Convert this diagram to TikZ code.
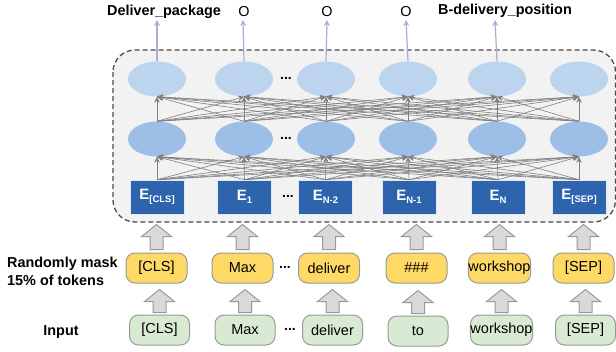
\documentclass[tikz,border=0pt]{standalone}
\usepackage{fontspec}
\setmainfont{Liberation Sans}
\usetikzlibrary{shapes.geometric,arrows.meta,calc}
\definecolor{bgbox}{HTML}{F2F2F2}
\definecolor{topell}{HTML}{BDD4EE}
\definecolor{midell}{HTML}{9DBEE6}
\definecolor{ebox}{HTML}{2E63AE}
\definecolor{ylw}{HTML}{FFD966}
\definecolor{grn}{HTML}{D9EAD3}
\definecolor{bord}{HTML}{999999}
\definecolor{purp}{HTML}{B4A7D6}
\definecolor{edgegray}{HTML}{808080}
\tikzset{
  topnode/.style={ellipse, fill=topell, minimum width=58pt, minimum height=35pt, inner sep=0pt},
  midnode/.style={ellipse, fill=midell, minimum width=58pt, minimum height=35pt, inner sep=0pt},
  embox/.style={rectangle, fill=ebox, draw=white!85!ebox, line width=0.6pt, minimum width=54pt, minimum height=34pt, inner sep=0pt, text=white, font=\fontsize{15}{15}\selectfont\bfseries},
  ybox/.style={rectangle, rounded corners=9pt, fill=ylw, draw=bord, line width=1pt, minimum width=61pt, minimum height=30pt, inner sep=0pt, font=\fontsize{14.5}{15}\selectfont},
  gbox/.style={rectangle, rounded corners=9pt, fill=grn, draw=bord, line width=1pt, minimum width=60pt, minimum height=30pt, inner sep=0pt, font=\fontsize{14.5}{15}\selectfont},
  edge/.style={draw=edgegray, line width=0.6pt, -{Stealth[length=6pt,width=5.5pt]}},
  outarrow/.style={draw=purp, line width=1.2pt, -{Stealth[length=6pt,width=6pt]}},
  toplabel/.style={font=\fontsize{14.4}{15}\selectfont\bfseries, inner sep=0pt},
  olabel/.style={font=\fontsize{14.4}{15}\selectfont, inner sep=0pt},
  sidelabel/.style={font=\fontsize{14.4}{18}\selectfont\bfseries, inner sep=0pt, align=left},
  dotsnode/.style={font=\fontsize{14}{14}\selectfont\bfseries, inner sep=0pt},
  blockarr/.style={fill=black!15, draw=bord, line width=1pt, line join=miter},
}
\newcommand\blockarrow[3]{%
  \draw[blockarr, shift={($(#1.north)+(0,#2)$)}] (-6.5,0) -- (-6.5,-#3+12) -- (-15,-#3+12) -- (0,-#3) -- (15,-#3+12) -- (6.5,-#3+12) -- (6.5,0) -- cycle;}
\newcommand\esub[2]{#1\raisebox{-3.5pt}{\fontsize{9.5}{10}\selectfont #2}}
\begin{document}
\begin{tikzpicture}[x=1pt,y=-1pt]
\useasboundingbox (0,0) rectangle (616,351);
% dashed container
\draw[dashed, dash pattern=on 5pt off 3pt, draw=black!70, line width=1.3pt, fill=bgbox, rounded corners=22pt] (113,50) rectangle (615.5,222);
% top ellipses
\foreach \n/\x in {1/157,2/244,3/326,4/408,5/497,6/579}{
  \node[topnode] (t\n) at (\x,79) {};
  \node[midnode] (m\n) at (\x,139) {};
}
% E boxes
\node[embox] (e1) at (157,197) {\esub{E}{[CLS]}};
\node[embox] (e2) at (244.5,197) {\esub{E}{1}};
\node[embox] (e3) at (325.5,197) {\esub{E}{N-2}};
\node[embox] (e4) at (409,197) {\esub{E}{N-1}};
\node[embox] (e5) at (498,197) {\esub{E}{N}};
\node[embox] (e6) at (579,197) {\esub{E}{[SEP]}};
% edges
\foreach \i in {1,...,6}{
  \foreach \j in {1,...,6}{
    \draw[edge] (e\i.north) -- (m\j.south);
    \draw[edge] (m\i.north) -- (t\j.south);
  }
}
% dots
\node[dotsnode] (d1) at (286,78) {...};
\node[dotsnode] (d2) at (286,138) {...};
\node[dotsnode] (d3) at (288,196) {...};
\node[dotsnode] (d4) at (285,267) {...};
\node[dotsnode] (d5) at (290,329) {...};
% masked tokens
\node[ybox] (y1) at (156.5,268) {[CLS]};
\node[ybox] (y2) at (242.5,268) {Max};
\node[ybox] (y3) at (329,268) {deliver};
\node[ybox] (y4) at (416.5,268) {\#\#\#};
\node[ybox] (y5) at (499.5,268) {workshop};
\node[ybox] (y6) at (583.5,268) {[SEP]};
% input tokens
\node[gbox] (g1) at (159.5,330) {[CLS]};
\node[gbox] (g2) at (245,330) {Max};
\node[gbox] (g3) at (332.5,330) {deliver};
\node[gbox] (g4) at (418,331) {to};
\node[gbox] (g5) at (501.5,330) {workshop};
\node[gbox] (g6) at (585.5,330) {[SEP]};
% block arrows
\foreach \n in {1,...,6}{
  \blockarrow{y\n}{-3}{25}
  \blockarrow{g\n}{-2}{23}
}
% side labels
\node[sidelabel, anchor=west] (lmask) at (7,271) {Randomly mask\\15\% of tokens};
\node[sidelabel] (linput) at (61,332) {Input};
% output labels
\node[toplabel] (o1) at (164,12) {Deliver\_package};
\node[olabel] (o2) at (244,12) {O};
\node[olabel] (o3) at (327,12) {O};
\node[olabel] (o4) at (406,12) {O};
\node[toplabel] (o5) at (505,11) {B-delivery\_position};
\coordinate (a1) at (157,20);
\coordinate (a2) at (243,20);
\coordinate (a3) at (327,20);
\coordinate (a4) at (406,20);
\coordinate (a5) at (495,20);
\foreach \n in {1,...,5}{
  \draw[outarrow] (t\n.north) -- (a\n);
}
\end{tikzpicture}
\end{document}
